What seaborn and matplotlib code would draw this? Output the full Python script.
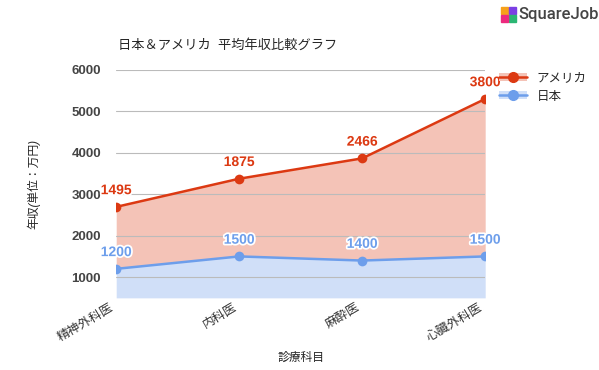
import matplotlib
matplotlib.use('Agg')
import matplotlib.pyplot as plt
import matplotlib.patheffects as pe
from matplotlib.lines import Line2D
from matplotlib.patches import Patch, Rectangle
import seaborn as sns
import pandas as pd

# データ
categories = ['精神外科医', '内科医', '麻酔医', '心臓外科医']
japan = [1200, 1500, 1400, 1500]
america = [1495, 1875, 2466, 3800]
yticks = [1000, 2000, 3000, 4000, 5000, 6000]

red = '#DC3912'
blue = '#6D9EEB'

sns.set_theme(style='white')
plt.rcParams['font.family'] = ['Liberation Sans', 'Noto Sans CJK JP', 'DejaVu Sans']

# 積み上げ(アメリカは日本の上に乗る)
stack_top = [j + a for j, a in zip(japan, america)]
df = pd.DataFrame({'科目': categories, '日本': japan, 'アメリカ': stack_top})

fig = plt.figure(figsize=(5.99, 3.70), dpi=100)
ax = fig.add_axes([0.194, 0.195, 0.616, 0.616])

xs = range(len(categories))
ax.set_ylim(500, 6000)
ax.set_xlim(0, len(categories) - 1)

ax.fill_between(xs, 500, japan, color='#D0DFF8', zorder=1, linewidth=0)
ax.fill_between(xs, japan, stack_top, color='#F4C3B7', zorder=1, linewidth=0)
for t in yticks:
    ax.axhline(t, color='#BBBBBB', lw=0.8, zorder=2)

sns.lineplot(data=df, x='科目', y='アメリカ', color=red, marker='o', markersize=7,
             markeredgewidth=0, linewidth=1.8, ax=ax, zorder=3)
sns.lineplot(data=df, x='科目', y='日本', color=blue, marker='o', markersize=7,
             markeredgewidth=0, linewidth=1.8, ax=ax, zorder=3)

halo = [pe.withStroke(linewidth=2.5, foreground='white')]
for i in xs:
    ax.annotate(str(america[i]), (i, stack_top[i]), xytext=(0, 7), textcoords='offset points',
                ha='center', va='bottom', color=red, fontsize=10, fontweight='bold',
                path_effects=halo, zorder=5, annotation_clip=False)
    ax.annotate(str(japan[i]), (i, japan[i]), xytext=(0, 7), textcoords='offset points',
                ha='center', va='bottom', color=blue, fontsize=10, fontweight='bold',
                path_effects=halo, zorder=5, annotation_clip=False)

ax.set_yticks(yticks)
ax.set_yticklabels([str(t) for t in yticks], fontsize=9.5, fontweight='bold', color='#444444')
ax.set_xticks(list(xs))
ax.set_xticklabels(categories, rotation=30, ha='right', fontsize=9, color='#333333')
ax.tick_params(axis='y', length=0, pad=11)
ax.tick_params(axis='x', length=0, pad=3)
for s in ax.spines.values():
    s.set_visible(False)

ax.set_xlabel('診療科目', fontsize=8.5, style='italic', labelpad=6)
ax.set_ylabel('年収(単位：万円)', fontsize=8.5, style='italic', labelpad=22)

fig.text(0.197, 0.878, '日本＆アメリカ  平均年収比較グラフ', fontsize=9.5, ha='left', va='center')

handles = [
    (Patch(facecolor='#F4C3B7', edgecolor='none'), Line2D([], [], color=red, marker='o', markersize=7, lw=1.8)),
    (Patch(facecolor='#D0DFF8', edgecolor='none'), Line2D([], [], color=blue, marker='o', markersize=7, lw=1.8)),
]
fig.legend(handles, ['アメリカ', '日本'], loc='upper left', bbox_to_anchor=(0.815, 0.835),
           frameon=False, fontsize=9, handlelength=2.2, handleheight=0.6, labelspacing=0.5)

# ロゴ
logo_cols = ['#F7A11A', '#7B3FE4', '#2BB673', '#EC2A7E']
for k, (dx, dy) in enumerate([(0, 1), (1, 1), (1, 0), (0, 0)]):
    fig.add_artist(Rectangle((0.836 + dx * 0.013, 0.94 + dy * 0.022), 0.012, 0.02,
                             color=logo_cols[k], transform=fig.transFigure))
fig.text(0.866, 0.962, 'SquareJob', fontsize=12, color='#444444', ha='left', va='center',
         family='Roboto', fontweight='medium')

fig.savefig('out.png', dpi=100)
